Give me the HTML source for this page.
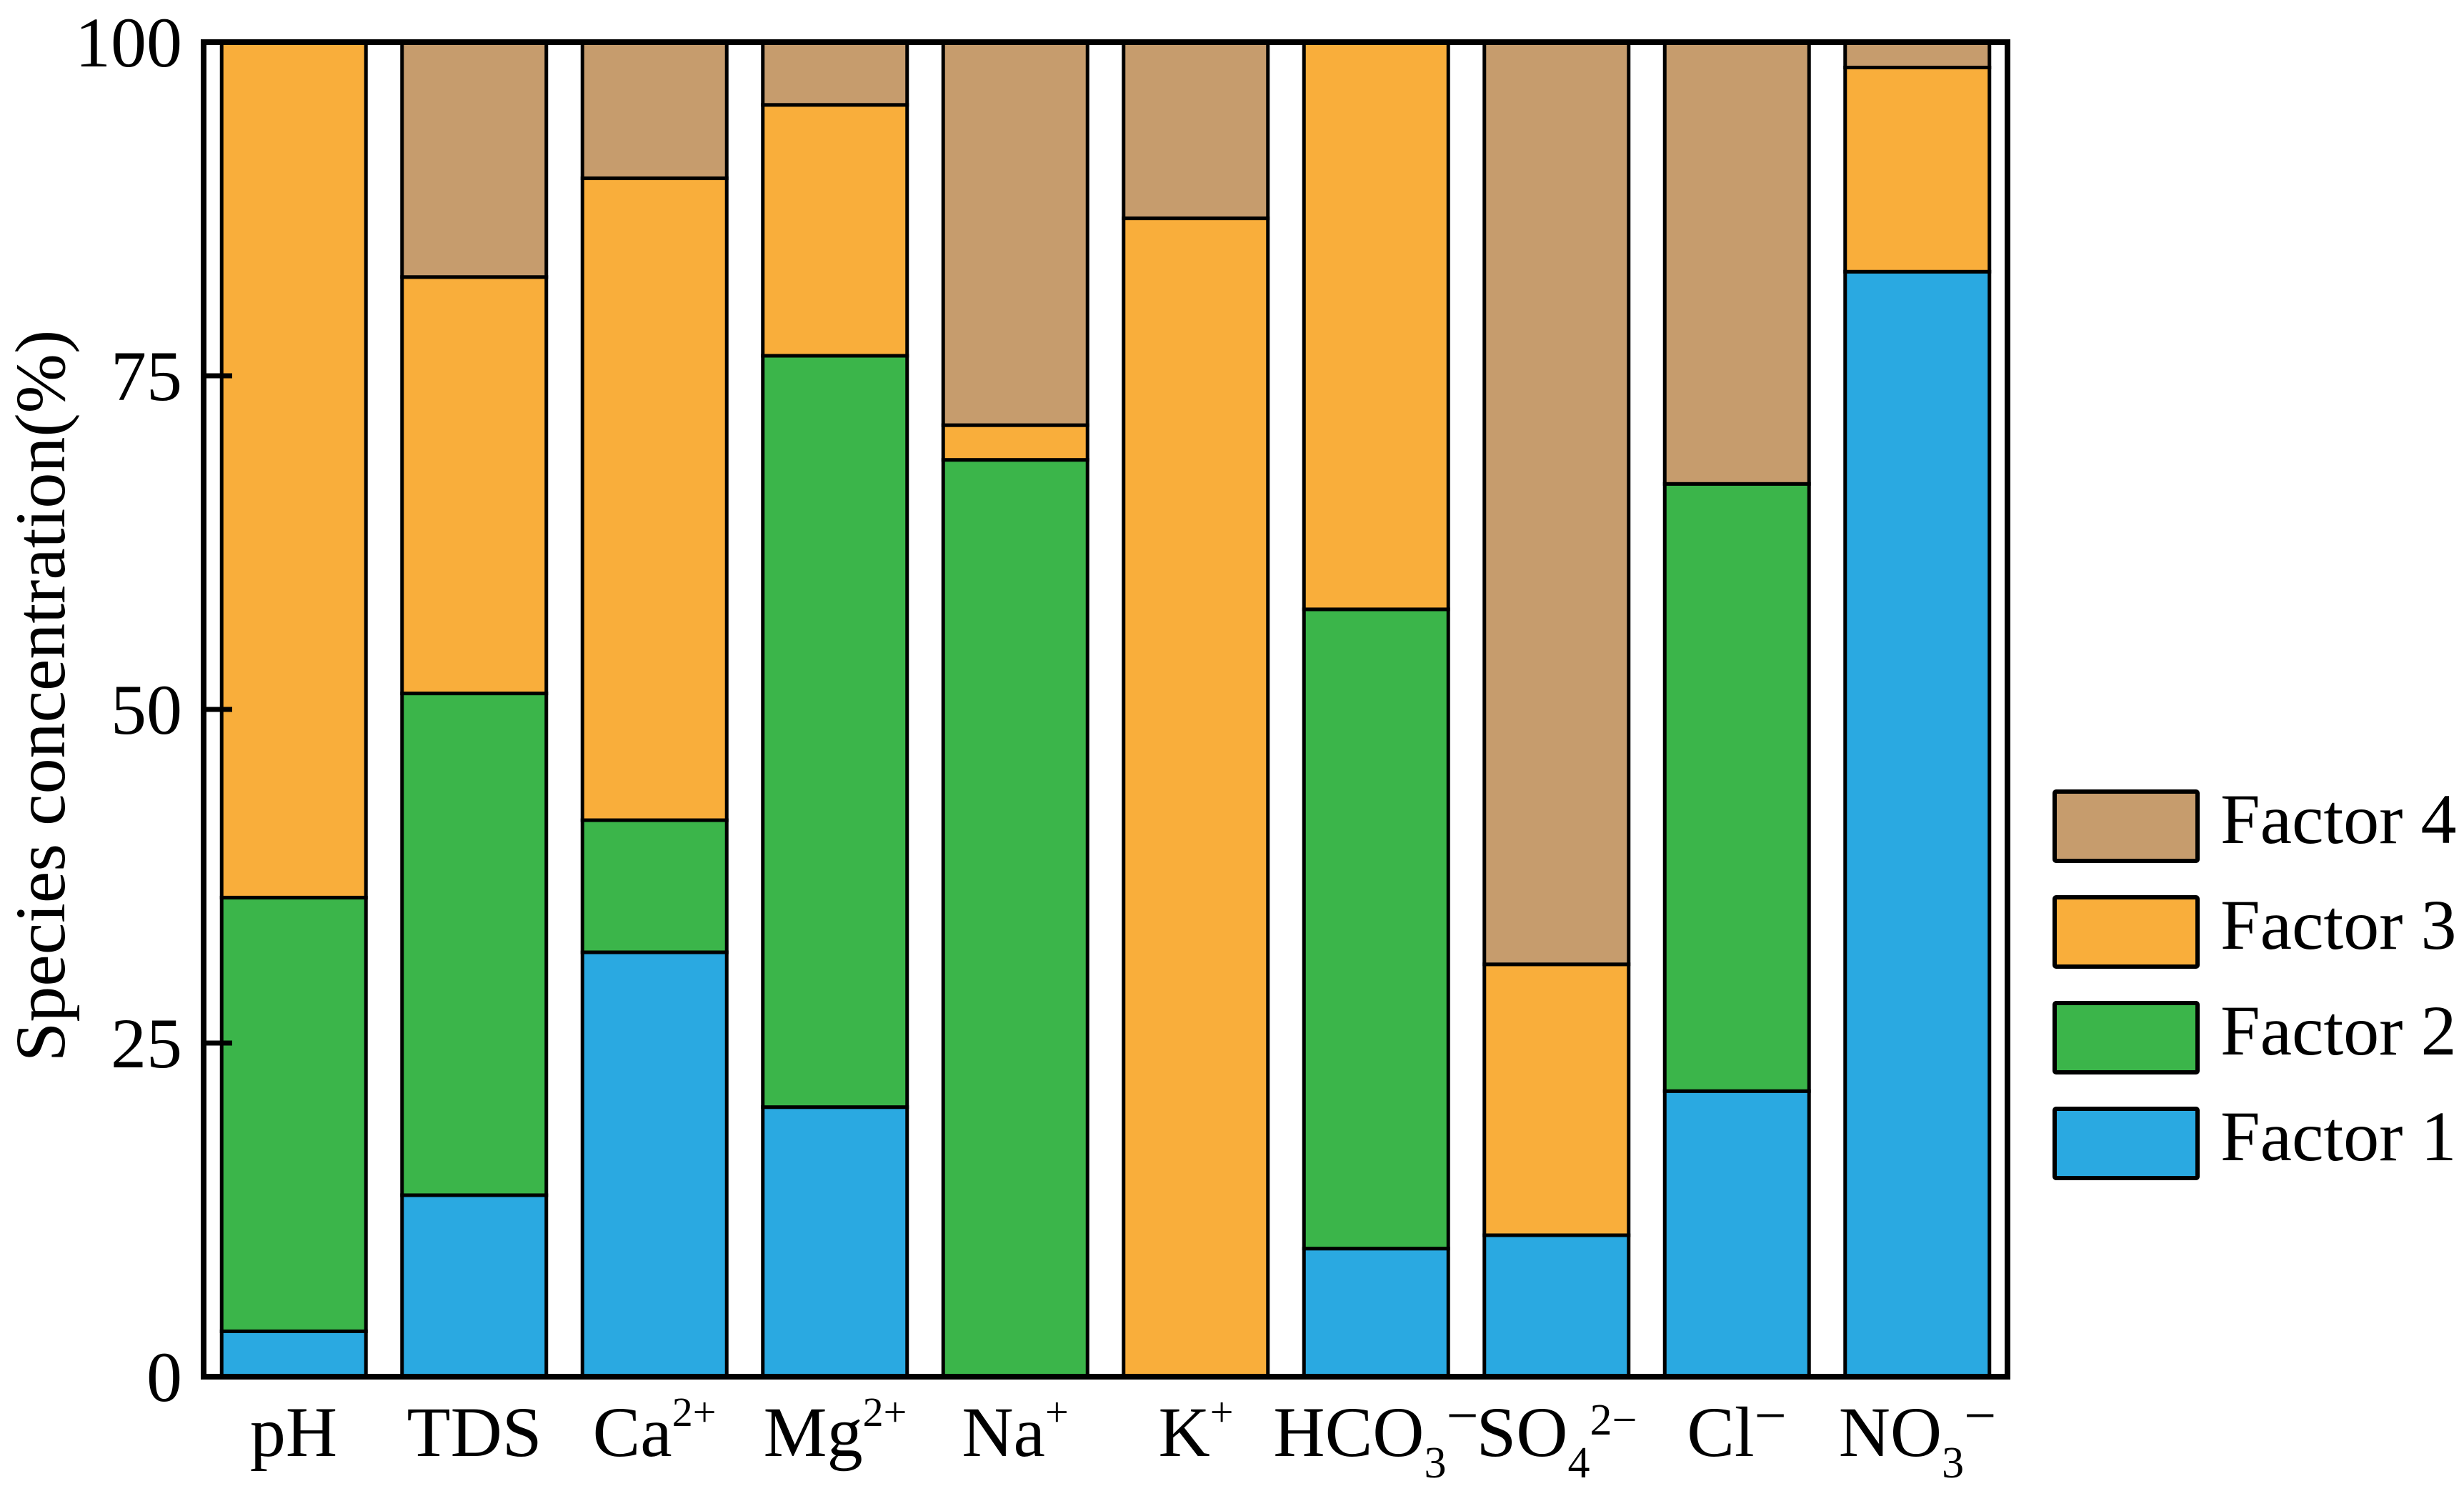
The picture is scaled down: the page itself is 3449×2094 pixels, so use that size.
<!DOCTYPE html>
<html><head><meta charset="utf-8"><style>
html,body{margin:0;padding:0;background:#fff;}
svg{display:block;font-family:"Liberation Serif",serif;}
</style></head><body>
<svg id="chart" width="3449" height="2094" viewBox="0 0 3449 2094" xmlns="http://www.w3.org/2000/svg">
<rect x="0" y="0" width="3449" height="2094" fill="#fff"/>
<g id="bars"></g>
<g id="axes"></g>
<text transform="translate(90,974) rotate(-90)" text-anchor="middle" font-size="100" font-family="Liberation Serif, serif">Species concentration(%)</text>
<g id="xlabels" font-size="100" text-anchor="middle">
<text x="411" y="2038">pH</text>
<text x="664" y="2038">TDS</text>
<text x="916" y="2038">Ca<tspan font-size="58" dy="-42">2+</tspan></text>
<text x="1169" y="2038">Mg<tspan font-size="58" dy="-42">2+</tspan></text>
<text x="1421" y="2038">Na<tspan font-size="58" dy="-42">+</tspan></text>
<text x="1674" y="2038">K<tspan font-size="58" dy="-42">+</tspan></text>
<text x="1926" y="2038">HCO<tspan font-size="62" dy="30">3</tspan><tspan dy="-60" font-size="80">−</tspan></text>
<text x="2179" y="2038">SO<tspan font-size="62" dy="30">4</tspan><tspan dy="-60" font-size="62">2−</tspan></text>
<text x="2431" y="2038">Cl<tspan font-size="80" dy="-30">−</tspan></text>
<text x="2684" y="2038">NO<tspan font-size="62" dy="30">3</tspan><tspan dy="-60" font-size="80">−</tspan></text>
</g>
<g id="legend"></g>
</svg>
<script>
const categories = ["pH","TDS","Ca2+","Mg2+","Na+","K+","HCO3-","SO42-","Cl-","NO3-"];
const factor1 = [3.4, 13.6, 31.8, 20.2, 0, 0, 9.6, 10.6, 21.4, 82.8];
const factor2 = [32.5, 37.6, 9.9, 56.3, 68.7, 0, 47.9, 0, 45.5, 0];
const factor3 = [64.1, 31.2, 48.1, 18.8, 2.6, 86.8, 42.5, 20.3, 0, 15.3];
const factor4 = [0, 17.6, 10.2, 4.7, 28.7, 13.2, 0, 69.1, 33.1, 1.9];
const seriesNames = ["Factor 1","Factor 2","Factor 3","Factor 4"];
const seriesColors = ["#2aa9e1","#3bb54a","#f9ae3b","#c69c6d"];
const yTicks = [0,25,50,75,100];

const NS = "http://www.w3.org/2000/svg";
const L = 285, R = 2810, T = 59, B = 1927;
const band = (R - L) / categories.length;
const barW = band * 0.8;
function xScale(i){ return L + band * (i + 0.5); }
function yScale(v){ return B - (v / 100) * (B - T); }
function mk(tag, attrs, parent){ const e = document.createElementNS(NS, tag); for (const k in attrs) e.setAttribute(k, attrs[k]); parent.appendChild(e); return e; }

const series = [factor1, factor2, factor3, factor4];
const barsG = document.getElementById('bars');
categories.forEach((c, i) => {
  let base = 0;
  series.forEach((s, k) => {
    const v = s[i];
    if (v <= 0) return;
    const y0 = yScale(base), y1 = yScale(base + v);
    const r = mk('rect', {x: xScale(i) - barW/2, y: y1, width: barW, height: y0 - y1, fill: seriesColors[k], stroke: '#000', 'stroke-width': 5}, barsG);
    
    
    base += v;
  });
});

const axesG = document.getElementById('axes');
const frame = mk('rect', {x: L, y: T, width: R - L, height: B - T, fill: 'none', stroke: '#000', 'stroke-width': 8}, axesG);


yTicks.forEach(t => {
  const y = yScale(t);
  const ln = mk('line', {x1: L, x2: L + 40, y1: y, y2: y, stroke: '#000', 'stroke-width': 7}, axesG);
  
  
  const tx = mk('text', {x: L - 30, y: y + 34, 'text-anchor': 'end', 'font-size': 100}, axesG);
  tx.textContent = t;
  
  
});

const legG = document.getElementById('legend');
[3,2,1,0].forEach((k, j) => {
  const y = 1108 + j * 148;
  const r = mk('rect', {x: 2876, y: y, width: 200, height: 97, fill: seriesColors[k], stroke: '#000', 'stroke-width': 6, rx: 2}, legG);
  
  
  const t = mk('text', {x: 3108, y: y + 72, 'font-size': 100}, legG);
  t.textContent = seriesNames[k];
  
  
});
</script>
</body></html>
